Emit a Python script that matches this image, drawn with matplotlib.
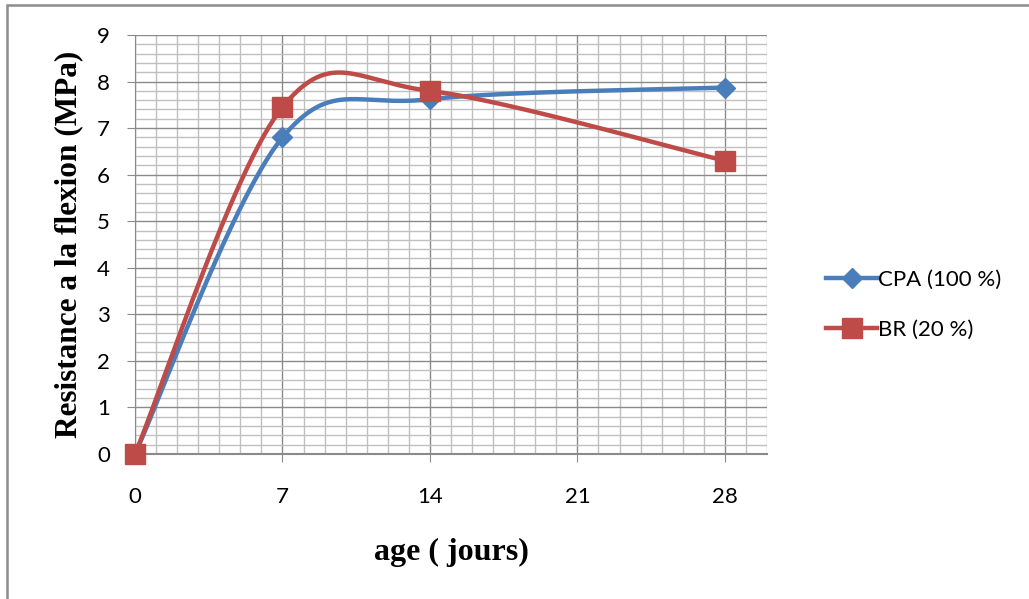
import numpy as np
import matplotlib
matplotlib.use("Agg")
import matplotlib.pyplot as plt
from matplotlib.patches import Rectangle
from matplotlib.ticker import MultipleLocator

# donnees
ages = [0, 7, 14, 28]
cpa = [0, 6.8, 7.62, 7.87]
br = [0, 7.45, 7.8, 6.3]
xticks = [0, 7, 14, 21, 28]


def lissage(x, y, n=60):
    # courbe lissee facon Excel (bezier, catmull-rom)
    x = np.asarray(x, float)
    y = np.asarray(y, float)
    px, py = [], []
    for i in range(len(x) - 1):
        i0 = max(i - 1, 0)
        i3 = min(i + 2, len(x) - 1)
        c1x = x[i] + (x[i + 1] - x[i0]) / 6
        c1y = y[i] + (y[i + 1] - y[i0]) / 6
        c2x = x[i + 1] - (x[i3] - x[i]) / 6
        c2y = y[i + 1] - (y[i3] - y[i]) / 6
        t = np.linspace(0, 1, n)
        a, b, c, d = (1 - t) ** 3, 3 * t * (1 - t) ** 2, 3 * t ** 2 * (1 - t), t ** 3
        px.extend(a * x[i] + b * c1x + c * c2x + d * x[i + 1])
        py.extend(a * y[i] + b * c1y + c * c2y + d * y[i + 1])
    return px, py


fig = plt.figure(figsize=(10.29, 5.99), dpi=100)
ax = fig.add_axes([135 / 1029, 1 - 454 / 599, (767 - 135) / 1029, (454 - 35) / 599])

# cadre gris du graphique
fig.patches.append(Rectangle((7 / 1029, -0.1), 1.1, 1 - 5 / 599 + 0.1, transform=fig.transFigure,
                             fill=False, edgecolor="#8c8c8c", linewidth=1.8))

ax.set_xlim(0, 30)
ax.set_ylim(0, 9)
ax.set_xticks(xticks)
ax.yaxis.set_major_locator(MultipleLocator(1))
ax.xaxis.set_minor_locator(MultipleLocator(1))
ax.yaxis.set_minor_locator(MultipleLocator(0.2))
ax.grid(which="minor", color="#c0c0c0", linewidth=1.0)
ax.grid(which="major", color="#8a8a8a", linewidth=1.0)
ax.set_axisbelow(True)

for s in ["top", "right"]:
    ax.spines[s].set_visible(False)
ax.spines["left"].set_color("#8a8a8a")
ax.spines["bottom"].set_color("#8a8a8a")
ax.spines["bottom"].set_linewidth(1.5)
ax.tick_params(which="major", length=6, color="#8a8a8a", labelsize=16)
ax.tick_params(axis="y", pad=12)
ax.tick_params(axis="x", pad=18)
ax.tick_params(which="minor", length=0)
for lab in ax.get_xticklabels() + ax.get_yticklabels():
    lab.set_fontfamily("Lato")

bleu = "#4a7ebb"
rouge = "#be4b48"
sx, sy = lissage(ages, cpa)
ax.plot(sx, sy, color=bleu, linewidth=3.2, zorder=3)
ax.plot(ages, cpa, linestyle="none", marker="D", markersize=10, color=bleu, zorder=4, clip_on=False)
sx, sy = lissage(ages, br)
ax.plot(sx, sy, color=rouge, linewidth=3.2, zorder=3)
ax.plot(ages, br, linestyle="none", marker="s", markersize=14, color=rouge, zorder=4, clip_on=False)

ax.set_ylabel("Resistance a la flexion (MPa)", fontfamily="Liberation Serif",
              fontweight="bold", fontsize=22.5, labelpad=10)
ax.set_xlabel("age ( jours)", fontfamily="Liberation Serif", fontweight="bold",
              fontsize=23, labelpad=22)

h1, = ax.plot([], [], color=bleu, linewidth=3.2, marker="D", markersize=10)
h2, = ax.plot([], [], color=rouge, linewidth=3.2, marker="s", markersize=14)
fig.legend([h1, h2], ["CPA (100 %)", "BR (20 %)"], loc="center left",
           bbox_to_anchor=(806 / 1029, 1 - 305 / 599), frameon=False,
           prop={"family": "Lato", "size": 16}, handlelength=2.3,
           handletextpad=0.05, labelspacing=1.35)

fig.savefig("out.png", dpi=100)
